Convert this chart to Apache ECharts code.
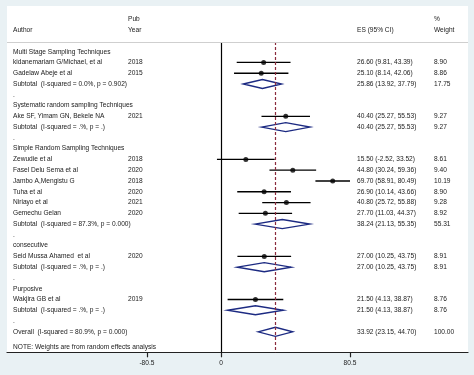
<!DOCTYPE html>
<html>
<head>
<meta charset="utf-8">
<script src="https://cdn.jsdelivr.net/npm/echarts@6/dist/echarts.min.js"></script>
<style>
  html, body { margin: 0; padding: 0; background: #e9f1f4; }
  #chart { width: 474px; height: 375px; }
</style>
</head>
<body>
<div id="chart"></div>
<script>
// one entry per row of the forest plot, top to bottom
const labels = [
  'Multi Stage Sampling Techniques',
  'kidanemariam G/Michael, et al',
  'Gadelaw Abeje et al',
  'Subtotal  (I-squared = 0.0%, p = 0.902)',
  '.',
  'Systematic random sampling Techniques',
  'Ake SF, Yimam GN, Bekele NA',
  'Subtotal  (I-squared = .%, p = .)',
  '.',
  'Simple Random Sampling Techniques',
  'Zewudie et al',
  'Fasel Delu Sema et al',
  'Jambo A,Mengistu G',
  'Tuha et al',
  'Niriayo et al',
  'Gemechu Gelan',
  'Subtotal  (I-squared = 87.3%, p = 0.000)',
  '.',
  'consecutive',
  'Seid Mussa Ahamed  et al',
  'Subtotal  (I-squared = .%, p = .)',
  '.',
  'Purposive',
  'Wakjira GB et al',
  'Subtotal  (I-squared = .%, p = .)',
  '.',
  'Overall  (I-squared = 80.9%, p = 0.000)'
];
const years = ['', '2018', '2015', '', '', '', '2021', '', '', '', '2018', '2020', '2018', '2020', '2021', '2020', '', '', '', '2020', '', '', '', '2019', '', '', ''];
const es = [null, 26.60, 25.10, 25.86, null, null, 40.40, 40.40, null, null, 15.50, 44.80, 69.70, 26.90, 40.80, 27.70, 38.24, null, null, 27.00, 27.00, null, null, 21.50, 21.50, null, 33.92];
const lower = [null, 9.81, 8.14, 13.92, null, null, 25.27, 25.27, null, null, -2.52, 30.24, 58.91, 10.14, 25.72, 11.03, 21.13, null, null, 10.25, 10.25, null, null, 4.13, 4.13, null, 23.15];
const upper = [null, 43.39, 42.06, 37.79, null, null, 55.53, 55.53, null, null, 33.52, 59.36, 80.49, 43.66, 55.88, 44.37, 55.35, null, null, 43.75, 43.75, null, null, 38.87, 38.87, null, 44.70];
const weight = [null, 8.90, 8.86, 17.75, null, null, 9.27, 9.27, null, null, 8.61, 9.40, 10.19, 8.90, 9.28, 8.92, 55.31, null, null, 8.91, 8.91, null, null, 8.76, 8.76, null, 100.00];
const overallRow = 26;
const note = 'NOTE: Weights are from random effects analysis';

// the reference puts its left tick label nearer to zero than the scale would
const tickLabels = ['-80.5', '0', '80.5'];
const tickAt = [-46.2, 0, 80.5];

const FONT = 'Liberation Sans, Arial, sans-serif';
const FS = 6.6;
const TXT = '#1a1a1a';
const NAVY = '#1c2a82';
const col = { name: 13, year: 128, es: 357, weight: 434 };

const fmtES = i => `${es[i].toFixed(2)} (${lower[i].toFixed(2)}, ${upper[i].toFixed(2)})`;

const studyRows = [], pooledRows = [];
labels.forEach((_, i) => {
  if (es[i] == null) return;
  (years[i] ? studyRows : pooledRows).push(i);
});

const textData = labels.map((_, i) => [0, i]);
textData.push([0, 27.45]);

const text = (x, y, s) => ({
  type: 'text',
  style: { x, y, text: s, font: `${FS}px ${FONT}`, fill: TXT, textVerticalAlign: 'middle' }
});

const header = (x, y, s) => ({
  type: 'text',
  style: { x, y, text: s, font: `${FS}px ${FONT}`, fill: TXT, verticalAlign: 'middle' }
});

const chart = echarts.init(document.getElementById('chart'));
chart.setOption({
  animation: false,
  backgroundColor: '#e9f1f4',
  graphic: [
    { type: 'rect', z: -1, silent: true, shape: { x: 7, y: 6, width: 461, height: 346 }, style: { fill: '#ffffff' } },
    header(col.year, 19, 'Pub'),
    header(col.weight, 19, '%'),
    header(col.name, 30, 'Author'),
    header(col.year, 30, 'Year'),
    header(col.es, 30, 'ES (95% CI)'),
    header(col.weight, 30, 'Weight')
  ],
  grid: { left: 7, right: 6, top: 42, bottom: 22.7 },
  xAxis: {
    type: 'value',
    min: -133.5,
    max: 154.1,
    splitLine: { show: false },
    axisLine: { show: true, onZero: false, lineStyle: { color: '#222', width: 1.2 } },
    axisTick: { show: true, customValues: tickAt, length: 5, lineStyle: { color: '#222', width: 1.2 } },
    axisLabel: {
      customValues: tickAt,
      margin: 7,
      fontSize: FS,
      fontFamily: FONT,
      color: TXT,
      formatter: v => tickLabels[tickAt.findIndex(t => Math.abs(t - v) < 1e-6)]
    }
  },
  yAxis: { type: 'value', inverse: true, min: -0.9, max: 27.9, show: false },
  series: [
    {
      type: 'custom',
      clip: false,
      silent: true,
      data: studyRows.map(i => [lower[i], i, upper[i]]),
      renderItem: (params, api) => {
        const a = api.coord([api.value(0), api.value(1)]);
        const b = api.coord([api.value(2), api.value(1)]);
        return { type: 'line', shape: { x1: a[0], y1: a[1], x2: b[0], y2: b[1] }, style: { stroke: '#000', lineWidth: 1.3 } };
      }
    },
    {
      type: 'scatter',
      silent: true,
      symbolSize: 5,
      itemStyle: { color: '#000' },
      data: studyRows.map(i => [es[i], i]),
      markLine: {
        silent: true,
        symbol: 'none',
        label: { show: false },
        data: [
          { xAxis: 0, lineStyle: { color: '#000', type: 'solid', width: 1.2 } },
          { xAxis: es[overallRow], lineStyle: { color: '#8a2a3c', type: [3, 2], width: 1.2 } },
          { yAxis: -0.9, lineStyle: { color: '#cfcfcf', type: 'solid', width: 1 } }
        ]
      }
    },
    {
      type: 'custom',
      clip: false,
      silent: true,
      data: pooledRows.map(i => [es[i], i, lower[i], upper[i]]),
      renderItem: (params, api) => {
        const row = api.value(1);
        const h = 0.42;
        const pts = [
          api.coord([api.value(2), row]),
          api.coord([api.value(0), row - h]),
          api.coord([api.value(3), row]),
          api.coord([api.value(0), row + h])
        ];
        return { type: 'polygon', shape: { points: pts }, style: { fill: '#fff', stroke: NAVY, lineWidth: 1.4 } };
      }
    },
    {
      type: 'custom',
      clip: false,
      silent: true,
      data: textData,
      renderItem: (params, api) => {
        const i = params.dataIndex;
        const y = api.coord([0, api.value(1)])[1];
        if (i >= labels.length) return text(col.name, y, note);
        const items = [text(col.name, y, labels[i])];
        if (years[i]) items.push(text(col.year, y, years[i]));
        if (es[i] != null) {
          items.push(text(col.es, y, fmtES(i)));
          items.push(text(col.weight, y, weight[i].toFixed(2)));
        }
        return { type: 'group', children: items };
      }
    }
  ]
});
</script>
</body>
</html>
